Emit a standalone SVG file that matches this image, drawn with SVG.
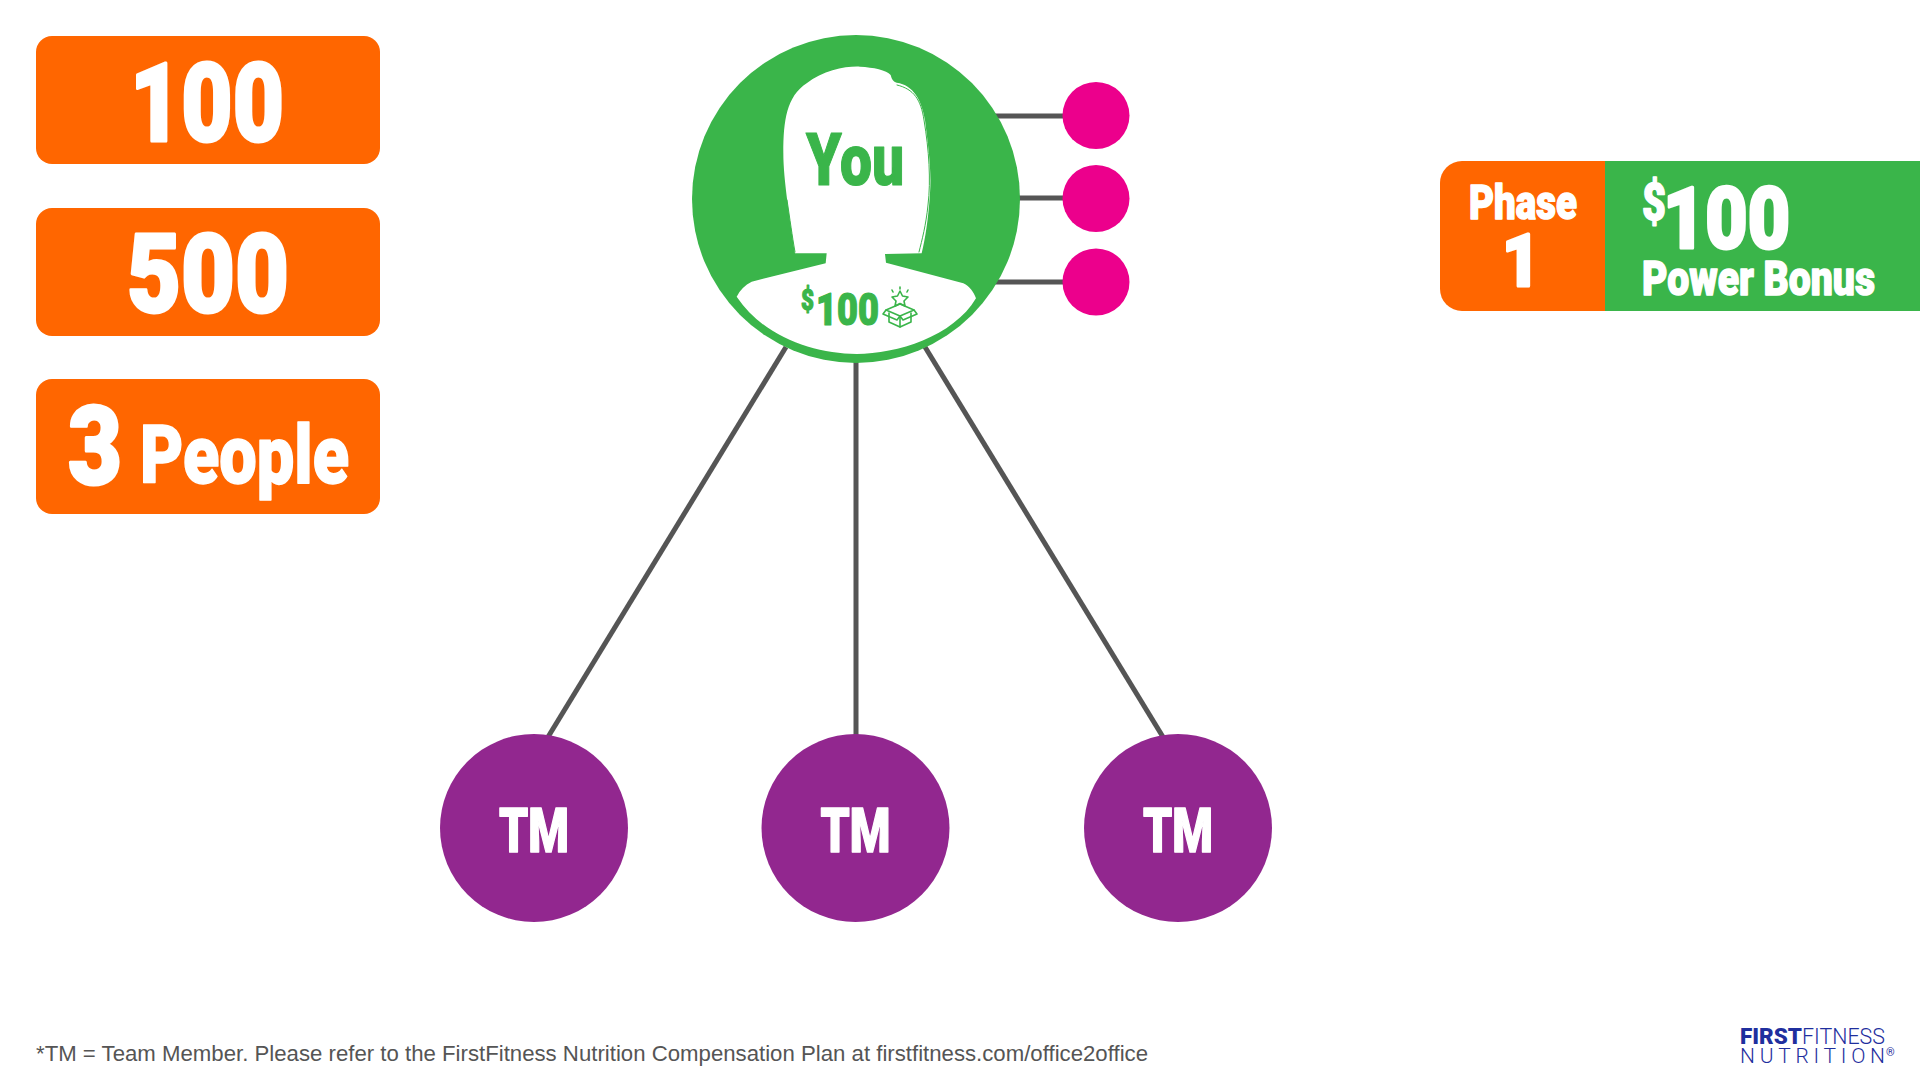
<svg xmlns="http://www.w3.org/2000/svg" width="1920" height="1080" viewBox="0 0 1920 1080">
<style>
.b{font-family:Roboto,"Liberation Sans",sans-serif;font-weight:900;fill:#fff;stroke:#fff;stroke-width:1.5;stroke-linejoin:round}
.x{stroke-width:3}
.gt{fill:#3ab54a;stroke:#3ab54a;stroke-width:1.2}
.g{fill:#3ab54a}
.o{fill:#ff6600}
.tm{fill:#92278f}
.p{fill:#ec008c}
.c line{stroke:#555;stroke-width:5}
.ic{fill:none;stroke:#3ab54a;stroke-width:1.6;stroke-linejoin:round;stroke-linecap:round}
.hair{fill:none;stroke:#3ab54a;stroke-width:1;stroke-linecap:round}
.lg{font-family:Roboto,"Liberation Sans",sans-serif;fill:#1f2f9e}
</style>
<rect width="1920" height="1080" fill="#fff"/>
<g id="connectors" class="c">
<line x1="786" y1="347" x2="548" y2="737"/>
<line x1="856" y1="350" x2="856" y2="740"/>
<line x1="925" y1="347" x2="1163" y2="737"/>
<line x1="980" y1="116" x2="1070" y2="116"/>
<line x1="980" y1="198" x2="1070" y2="198"/>
<line x1="980" y1="282" x2="1070" y2="282"/>
</g>
<g id="stat-100"><rect class="o" x="36" y="36" width="344" height="128" rx="16"/>
<text class="b x" x="130" y="141" font-size="110" textLength="154" lengthAdjust="spacingAndGlyphs">100</text></g>
<g id="stat-500"><rect class="o" x="36" y="208" width="344" height="128" rx="16"/>
<text class="b x" x="127" y="312" font-size="110" textLength="162" lengthAdjust="spacingAndGlyphs">500</text></g>
<g id="stat-people"><rect class="o" x="36" y="379" width="344" height="135" rx="16"/>
<text class="b x" x="68" y="484" font-size="110" textLength="54" lengthAdjust="spacingAndGlyphs">3</text>
<text class="b" x="140" y="483" font-size="82" textLength="209" lengthAdjust="spacingAndGlyphs">People</text></g>
<g id="you">
<circle class="g" cx="856" cy="199" r="164"/>
<path fill="#fff" transform="translate(680 20) scale(.33333)" d="M345,700 C330,600 310,480 310,400 C310,300 320,230 380,190 C430,150 500,138 540,140 C580,142 620,150 632,165 C636,180 640,185 650,188 C700,195 725,240 735,300 C745,380 755,450 750,520 C745,600 735,660 725,700 L615,702 L618,728 L850,790 C870,800 880,815 888,835 C820,950 650,1002 530,1002 C400,1002 250,950 170,830 C180,810 195,795 215,785 L437,730 L440,700 Z"/>
<path class="hair" d="M897,85 C914,89 921,100 924,120 C929,150 931,180 928,205 C926,225 922,240 919,252"/>
<path class="hair" d="M787,200 C790,220 792,235 795,252"/>
<text class="b gt" x="806" y="185" font-size="73" textLength="98" lengthAdjust="spacingAndGlyphs">You</text>
<text class="b gt" x="801" y="310" font-size="30" textLength="13" lengthAdjust="spacingAndGlyphs">$</text>
<text class="b gt" x="816" y="325" font-size="44" textLength="63" lengthAdjust="spacingAndGlyphs">100</text>
<g class="ic">
<path d="M886,310 L900,304 L914,310 L900,316 Z"/>
<path d="M889,313 V322 L900,327 L911,322 V313"/>
<path d="M900,316 V327"/>
<path d="M886,310 L883,314 L897,320 L900,316 L903,320 L917,314 L914,310"/>
<path d="M900,291 L902.500,296 L908,297 L904,301 L905,306 L900,303.500 L895,306 L896,301 L892,297 L897.500,296 Z"/>
<path d="M900,287 V289 M892,290 L893,292 M908,290 L907,292"/>
</g>
</g>
<g id="bonus-1"><circle class="p" cx="1096" cy="115.500" r="33.500"/></g>
<g id="bonus-2"><circle class="p" cx="1096" cy="198.500" r="33.500"/></g>
<g id="bonus-3"><circle class="p" cx="1096" cy="282" r="33.500"/></g>
<g id="tm-1"><circle class="tm" cx="534" cy="828" r="94"/>
<text class="b" x="534" y="852" font-size="62" text-anchor="middle" textLength="70" lengthAdjust="spacingAndGlyphs">TM</text></g>
<g id="tm-2"><circle class="tm" cx="855.500" cy="828" r="94"/>
<text class="b" x="855.500" y="852" font-size="62" text-anchor="middle" textLength="70" lengthAdjust="spacingAndGlyphs">TM</text></g>
<g id="tm-3"><circle class="tm" cx="1178" cy="828" r="94"/>
<text class="b" x="1178" y="852" font-size="62" text-anchor="middle" textLength="70" lengthAdjust="spacingAndGlyphs">TM</text></g>
<g id="phase">
<path class="g" d="M1600,161 H1920 V311 H1600 Z"/>
<path class="o" d="M1605,161 V311 H1462 A22,22 0 0 1 1440,289 V183 A22,22 0 0 1 1462,161 Z"/>
<text class="b" x="1469" y="219" font-size="48" textLength="108" lengthAdjust="spacingAndGlyphs">Phase</text>
<text class="b x" x="1502" y="286" font-size="73" textLength="38" lengthAdjust="spacingAndGlyphs">1</text>
<text class="b" x="1642" y="220" font-size="52" textLength="24" lengthAdjust="spacingAndGlyphs">$</text>
<text class="b x" x="1663" y="248" font-size="86" textLength="127" lengthAdjust="spacingAndGlyphs">100</text>
<text class="b" x="1642" y="295" font-size="48" textLength="233" lengthAdjust="spacingAndGlyphs">Power Bonus</text>
</g>
<text id="footnote" x="36" y="1061" font-family="Liberation Sans,Arial,sans-serif" font-size="21.500" fill="#555" textLength="1112" lengthAdjust="spacingAndGlyphs">*TM = Team Member. Please refer to the FirstFitness Nutrition Compensation Plan at firstfitness.com/office2office</text>
<g id="logo">
<text class="lg" x="1740" y="1044" font-size="22" font-weight="900" textLength="62" lengthAdjust="spacingAndGlyphs">FIRST</text>
<text class="lg" x="1802" y="1044" font-size="22" font-weight="300" textLength="83" lengthAdjust="spacingAndGlyphs">FITNESS</text>
<text class="lg" x="1740" y="1063" font-size="21" font-weight="300" textLength="145">NUTRITION</text>
<text class="lg" x="1886" y="1056" font-size="11">®</text>
</g>
</svg>
